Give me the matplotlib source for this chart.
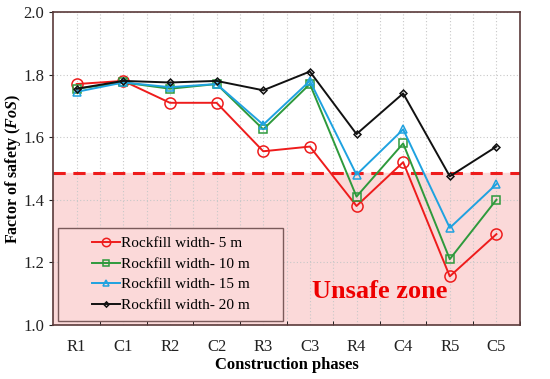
import matplotlib
matplotlib.use("Agg")
import matplotlib.pyplot as plt
from matplotlib.patches import Rectangle
import numpy as np

phases = ["R1", "C1", "R2", "C2", "R3", "C3", "R4", "C4", "R5", "C5"]
fos_5m = [1.77, 1.78, 1.71, 1.71, 1.555, 1.57, 1.38, 1.52, 1.155, 1.29]
fos_10m = [1.755, 1.775, 1.755, 1.77, 1.625, 1.77, 1.41, 1.58, 1.21, 1.40]
fos_15m = [1.745, 1.775, 1.76, 1.77, 1.64, 1.78, 1.48, 1.625, 1.31, 1.45]
fos_20m = [1.755, 1.78, 1.775, 1.78, 1.75, 1.81, 1.61, 1.74, 1.475, 1.57]
threshold = 1.485

plt.rcParams["font.family"] = ["Liberation Serif", "DejaVu Serif"]
plt.rcParams["mathtext.fontset"] = "custom"
plt.rcParams["mathtext.it"] = "Liberation Serif:italic:bold"
plt.rcParams["mathtext.rm"] = "Liberation Serif:bold"

fig = plt.figure(figsize=(5.5, 3.79), dpi=100)
ax = fig.add_axes([0.097, 0.143, 0.848, 0.825])

x = np.arange(len(phases))
ax.axhspan(1.0, threshold, color="#fbd9d9", zorder=0)
ax.axhline(threshold, color="#ee1c1c", lw=2.2, ls=(0, (4, 2.5)), zorder=1)

series = [
    (fos_5m, "#ee1c1c", "o", 8, "Rockfill width- 5 m"),
    (fos_10m, "#2e9a3c", "s", 5.5, "Rockfill width- 10 m"),
    (fos_15m, "#1fa2e0", "^", 6, "Rockfill width- 15 m"),
    (fos_20m, "#111111", "D", 3.5, "Rockfill width- 20 m"),
]
for vals, col, mk, ms, lab in series:
    ax.plot(x, vals, color=col, lw=1.4, marker=mk, ms=ms, mfc="none",
            mec=col, mew=1.1, label=lab, zorder=3)

ax.set_xlim(-0.5, len(phases) - 0.5)
ax.set_ylim(1.0, 2.0)
ax.set_xticks(x)
ax.set_xticklabels(phases)
ax.set_xticks(x + 0.5, minor=True)
ax.set_yticks(np.arange(1.0, 2.01, 0.2))
ax.yaxis.set_major_formatter(matplotlib.ticker.FormatStrFormatter("%.1f"))
ax.tick_params(axis="both", labelsize=12, length=3, colors="#222222")
ax.tick_params(axis="x", which="major", length=0, pad=10)
ax.tick_params(axis="x", which="minor", direction="in", length=3)
ax.grid(True, which="both", axis="x", ls=(0, (1, 2)), color="#c8c8c8", lw=0.8)
ax.grid(True, which="major", axis="y", ls=(0, (1, 2)), color="#c8c8c8", lw=0.8)
ax.set_axisbelow(True)

for s in ax.spines.values():
    s.set_color("#5a3a3a")
    s.set_linewidth(1.2)

ax.set_xlabel("Construction phases", fontsize=12, fontweight="bold", labelpad=2)
ax.set_ylabel(r"Factor of safety ($\it{FoS}$)", fontsize=11.5, fontweight="bold")
ax.yaxis.set_label_coords(-0.066, 0.5)

ax.text(6.5, 1.105, "Unsafe zone", color="#ee0000", fontsize=19,
        fontweight="bold", ha="center", va="center", zorder=4)

# legend box is wider than its content in the original
box = Rectangle((0.011, 0.013), 0.482, 0.297, transform=ax.transAxes,
                facecolor="#fbd9d9", edgecolor="#7a5a5a", lw=1.0, zorder=4)
ax.add_patch(box)
leg = ax.legend(loc="center", bbox_to_anchor=(0.252, 0.1615), fontsize=11,
                frameon=False, handlelength=1.8, handletextpad=0.05,
                labelspacing=0.45, markerscale=0.75)
leg.set_zorder(5)

fig.savefig("out.png", dpi=100, facecolor="white")
